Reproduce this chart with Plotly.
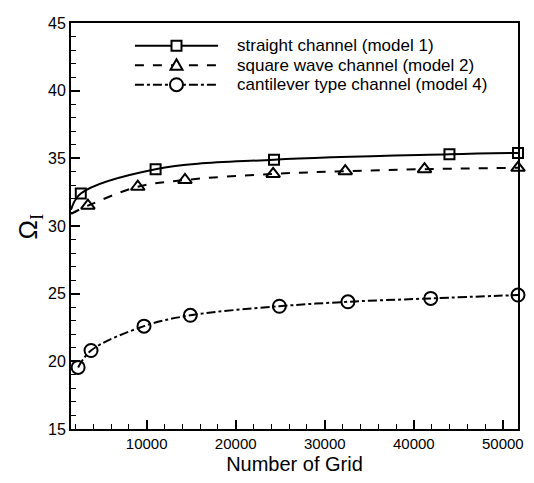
import plotly.graph_objects as go

# Marker points
x_straight = [2600, 11000, 24300, 44000, 51700]
y_straight = [32.4, 34.2, 34.9, 35.3, 35.4]

x_square = [3400, 9000, 14300, 24200, 32300, 41200, 51700]
y_square = [31.5, 32.9, 33.4, 33.85, 34.05, 34.2, 34.3]

x_cant = [2300, 3750, 9700, 14900, 24900, 32600, 41900, 51700]
y_cant = [19.55, 20.8, 22.6, 23.4, 24.07, 24.4, 24.65, 24.9]

# curve starting points at the left axis (no marker)
x_start = 1500
y_start_straight = 31.2
y_start_square = 30.9

names = ["straight channel (model 1)", "square wave channel (model 2)",
         "cantilever type channel (model 4)"]

x_tickvals = [10000, 20000, 30000, 40000, 50000]
x_ticktext = ["10000", "20000", "30000", "40000", "50000"]
y_tickvals = [15, 20, 25, 30, 35, 40, 45]

FONT = "Liberation Sans, Arial, sans-serif"
fig = go.Figure()

series = [
    (names[0], [x_start] + x_straight, [y_start_straight] + y_straight, "solid", "square-open", 10),
    (names[1], [x_start] + x_square, [y_start_square] + y_square, "dash", "triangle-up-open", 12),
    (names[2], x_cant, y_cant, "dashdot", "circle-open", 13),
]
for name, xs, ys, dash, sym, size in series:
    fig.add_trace(go.Scatter(
        x=xs, y=ys, mode="lines", name=name, showlegend=False,
        line=dict(color="black", width=2, dash=dash, shape="spline", smoothing=1.0),
        hoverinfo="skip", cliponaxis=True))

for (name, xs, ys, dash, sym, size), (mx, my) in zip(series, [(x_straight, y_straight), (x_square, y_square), (x_cant, y_cant)]):
    fig.add_trace(go.Scatter(
        x=mx, y=my, mode="markers", name=name,
        marker=dict(symbol=sym, size=size, color="black", line=dict(width=2, color="black")),
        cliponaxis=False, showlegend=False))

# Manual legend (layout decoration in paper coordinates)
leg_x0, leg_x1, leg_xm, leg_xt = 0.143, 0.329, 0.236, 0.367
leg_rows = [0.944, 0.896, 0.848]
dashes = ["solid", "dash", "dashdot"]
shapes = []
annotations = []
for i, (yy, dash, name) in enumerate(zip(leg_rows, dashes, names)):
    shapes.append(dict(type="line", xref="paper", yref="paper", x0=leg_x0, x1=leg_x1, y0=yy, y1=yy,
                       line=dict(color="black", width=2, dash=dash), layer="above"))
    common = dict(xref="paper", yref="paper", xsizemode="pixel", ysizemode="pixel",
                  xanchor=leg_xm, yanchor=yy, fillcolor="white",
                  line=dict(color="black", width=2), layer="above")
    if i == 0:
        shapes.append(dict(type="rect", x0=-5, x1=5, y0=-5, y1=5, **common))
    elif i == 1:
        shapes.append(dict(type="path", path="M-6,-4.5 L6,-4.5 L0,6 Z", **common))
    else:
        shapes.append(dict(type="circle", x0=-6.5, x1=6.5, y0=-6.5, y1=6.5, **common))
    annotations.append(dict(text=name, xref="paper", yref="paper", x=leg_xt, y=yy,
                            xanchor="left", yanchor="middle", showarrow=False,
                            font=dict(size=17, family=FONT, color="black")))

# y-axis title as rotated annotation
annotations.append(dict(text="Ω<sub><span style='font-family:Liberation Serif'>I</span></sub>",
                        xref="paper", yref="paper", x=-0.093, y=0.50,
                        xanchor="center", yanchor="middle", textangle=-90, showarrow=False,
                        font=dict(size=26, family=FONT, color="black")))

fig.update_layout(
    width=526, height=475,
    margin=dict(l=63, r=16, t=7, b=54),
    paper_bgcolor="white", plot_bgcolor="white",
    font=dict(family=FONT, color="black", size=15),
    showlegend=False,
    shapes=shapes, annotations=annotations,
    xaxis=dict(range=[1500, 51700], tickvals=x_tickvals, ticktext=x_ticktext,
               ticks="inside", ticklen=9, tickwidth=2, tickcolor="black",
               minor=dict(dtick=2000, tick0=0, ticks="inside", ticklen=5, tickwidth=1, tickcolor="black"),
               showline=True, linewidth=2, linecolor="black", mirror=True,
               showgrid=False, zeroline=False,
               tickfont=dict(size=15, family=FONT),
               title=dict(text="Number of Grid", font=dict(size=20, family=FONT), standoff=6)),
    yaxis=dict(range=[15, 45], tickvals=y_tickvals,
               ticks="inside", ticklen=9, tickwidth=2, tickcolor="black",
               minor=dict(dtick=1, tick0=0, ticks="inside", ticklen=5, tickwidth=1, tickcolor="black"),
               showline=True, linewidth=2, linecolor="black", mirror=True,
               showgrid=False, zeroline=False,
               tickfont=dict(size=16, family=FONT)),
)

fig.write_html("out.html")
